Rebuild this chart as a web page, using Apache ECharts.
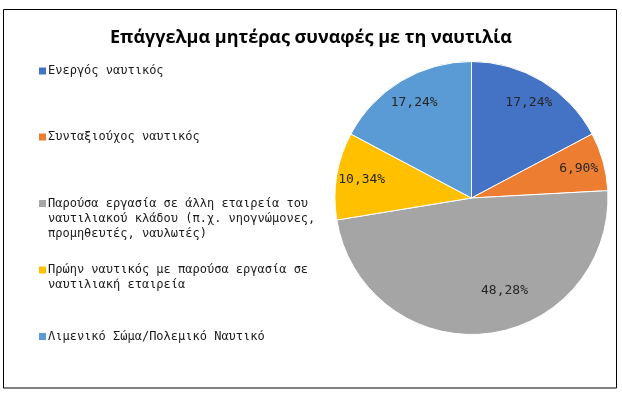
<!DOCTYPE html>
<html>
<head>
<meta charset="utf-8">
<script src="https://cdn.jsdelivr.net/npm/echarts@6/dist/echarts.min.js"></script>
<style>
html,body{margin:0;padding:0;background:#fff;}
#chart{width:622px;height:396px;}
</style>
</head>
<body>
<div id="chart"></div>
<script>
const titleText = 'Επάγγελμα μητέρας συναφές με τη ναυτιλία';
const categories = [
  'Ενεργός ναυτικός',
  'Συνταξιούχος ναυτικός',
  'Παρούσα εργασία σε άλλη εταιρεία του ναυτιλιακού κλάδου (π.χ. νηογνώμονες, προμηθευτές, ναυλωτές)',
  'Πρώην ναυτικός με παρούσα εργασία σε ναυτιλιακή εταιρεία',
  'Λιμενικό Σώμα/Πολεμικό Ναυτικό'
];
const legendLines = [
  ['Ενεργός ναυτικός'],
  ['Συνταξιούχος ναυτικός'],
  ['Παρούσα εργασία σε άλλη εταιρεία του', 'ναυτιλιακού κλάδου (π.χ. νηογνώμονες,', 'προμηθευτές, ναυλωτές)'],
  ['Πρώην ναυτικός με παρούσα εργασία σε', 'ναυτιλιακή εταιρεία'],
  ['Λιμενικό Σώμα/Πολεμικό Ναυτικό']
];
const values = [17.24, 6.90, 48.28, 10.34, 17.24];
const colors = ['#4472C4', '#ED7D31', '#A5A5A5', '#FFC000', '#5B9BD5'];

const chart = echarts.init(document.getElementById('chart'), null, {renderer: 'canvas'});

const center = [471.5, 198];
const R = 136.5;
const lineH = 15;
const firstLineCenters = [71, 137, 203.5, 270, 336.5];

const legends = categories.map((name, i) => {
  const lines = legendLines[i];
  const n = lines.length;
  const padded = [];
  for (let k = 0; k < n - 1; k++) padded.push(' ');
  const txt = padded.concat(lines).join('\n');
  const totalLines = 2 * n - 1;
  return {
    data: [{name: name, icon: 'rect', itemStyle: {color: colors[i], borderWidth: 0, borderColor: colors[i]}}],
    orient: 'vertical',
    left: 39,
    top: firstLineCenters[i] - totalLines * lineH / 2,
    padding: 0,
    itemWidth: 7,
    itemHeight: 7,
    icon: 'rect',
    selectedMode: false,
    itemStyle: {borderWidth: 0, borderColor: 'transparent'},
    formatter: () => txt,
    textStyle: {
      fontFamily: 'DejaVu Sans Mono',
      fontSize: 12,
      color: '#1a1a1a',
      lineHeight: lineH,
      padding: [0, 0, 0, -3]
    }
  };
});

const mainData = categories.map((name, i) => ({
  name: name, value: values[i], itemStyle: {color: colors[i]}
}));
const labelData = categories.map((name, i) => {
  const d = {name: name, value: values[i]};
  if (i === 2) d.label = {offset: [21, -18]};
  return d;
});

chart.setOption({
  animation: false,
  backgroundColor: '#fff',
  title: {
    text: titleText,
    left: 'center',
    top: 24,
    textStyle: {fontFamily: 'Open Sans', fontWeight: 'bold', fontSize: 18, color: '#000'}
  },
  graphic: [{
    type: 'rect',
    shape: {x: 3.5, y: 9.5, width: 613, height: 378.5},
    style: {fill: 'none', stroke: '#000', lineWidth: 1},
    silent: true,
    z: -1
  }],
  legend: legends,
  series: [
    {
      type: 'pie',
      center: center,
      radius: [0, R],
      startAngle: 90,
      clockwise: true,
      silent: true,
      label: {show: false},
      labelLine: {show: false},
      itemStyle: {borderColor: '#fff', borderWidth: 1},
      data: mainData
    },
    {
      type: 'pie',
      center: center,
      radius: [80, R],
      startAngle: 90,
      clockwise: true,
      silent: true,
      legendHoverLink: false,
      itemStyle: {color: 'rgba(0,0,0,0)', borderWidth: 0},
      label: {
        show: true,
        position: 'inside',
        fontFamily: 'DejaVu Sans Mono',
        fontSize: 13,
        color: '#262626',
        formatter: p => p.value.toFixed(2).replace('.', ',') + '%'
      },
      labelLine: {show: false},
      data: labelData
    }
  ]
});
</script>
</body>
</html>
